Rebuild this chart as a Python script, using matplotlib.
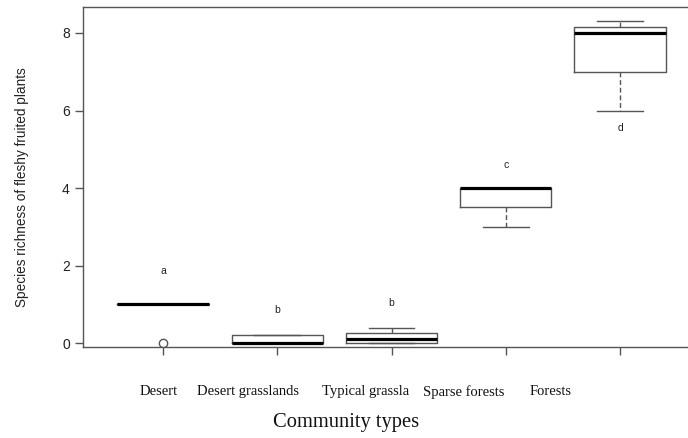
import matplotlib
matplotlib.use("Agg")
from matplotlib import pyplot as plt

categories = ["Desert", "Desert grasslands", "Typical grassla", "Sparse forests", "Forests"]
medians = [1.0, 0.0, 0.1, 4.0, 8.0]
q1 = [1.0, 0.0, 0.0, 3.5, 7.0]
q3 = [1.0, 0.2, 0.25, 4.0, 8.15]
whislo = [1.0, 0.0, 0.0, 3.0, 6.0]
whishi = [1.0, 0.2, 0.4, 4.0, 8.3]
outliers = [[0.0], [], [], [], []]
letters = ["a", "b", "b", "c", "d"]
letter_y = [1.86, 0.85, 1.04, 4.59, 5.55]
# tick label centres (labels are not centred on the ticks in the original)
label_x = [0.96, 1.74, 2.77, 3.63, 4.39]

fig = plt.figure(figsize=(6.88, 4.38), dpi=100)
ax = fig.add_axes([83 / 688, 1 - 347 / 438, 617 / 688, 340 / 438])

stats = []
for i, name in enumerate(categories):
    stats.append(dict(label=name, med=medians[i], q1=q1[i], q3=q3[i],
                      whislo=whislo[i], whishi=whishi[i], fliers=outliers[i]))

grey = "#555555"
ax.bxp(stats, positions=range(1, 6), widths=0.8, showfliers=True,
       boxprops=dict(color=grey, linewidth=1.0),
       medianprops=dict(color="black", linewidth=2.3, solid_capstyle="butt"),
       whiskerprops=dict(color=grey, linewidth=1.0, linestyle=(0, (3.5, 2))),
       capprops=dict(color=grey, linewidth=1.0),
       capwidths=0.4,
       flierprops=dict(marker="o", markerfacecolor="none", markeredgecolor=grey,
                       markersize=6, markeredgewidth=1.0))

for i, t in enumerate(letters):
    ax.text(i + 1, letter_y[i], t, ha="center", va="center", fontsize=7.5,
            color="#222222", family="Liberation Sans")

ax.set_xlim(0.3, 5.7)
ax.set_ylim(-0.1, 8.67)
ax.set_yticks([0, 2, 4, 6, 8])
ax.set_xticks(range(1, 6))
ax.set_xticklabels([])
ax.tick_params(axis="both", color=grey, length=6, width=1.0, labelsize=10,
               labelcolor="#222222")
for lab in ax.get_yticklabels():
    lab.set_family("Liberation Sans")
for sp in ax.spines.values():
    sp.set_color(grey)
    sp.set_linewidth(1.0)

for i, name in enumerate(categories):
    ax.text(label_x[i], -1.26, name, ha="center", va="center", fontsize=10.5,
            family="Liberation Serif", color="#111111")

fig.text(346 / 688, 1 - 423 / 438, "Community types", ha="center", va="center",
         fontsize=14.8, family="Liberation Serif", color="#111111")
fig.text(22 / 688, 1 - 187 / 438, "Species richness of fleshy fruited plants",
         rotation=90, ha="center", va="center", fontsize=9.8,
         family="Liberation Sans", color="#222222")

fig.savefig("out.png", dpi=100)
